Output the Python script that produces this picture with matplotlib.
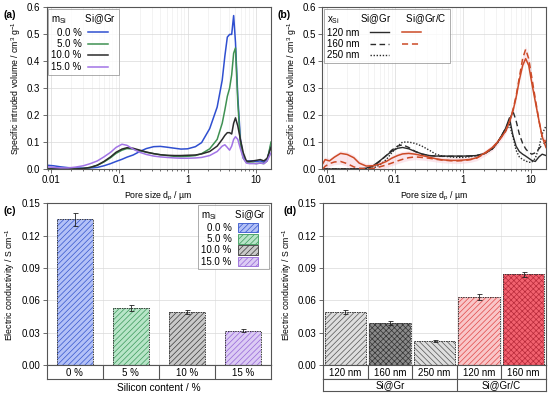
import numpy as np
import matplotlib
matplotlib.use("Agg")
import matplotlib.pyplot as plt
from matplotlib.lines import Line2D
from matplotlib.ticker import FixedLocator, FormatStrFormatter, NullFormatter, LogLocator

plt.rcParams['font.family'] = ['Liberation Sans', 'DejaVu Sans']
plt.rcParams['mathtext.fontset'] = 'custom'
plt.rcParams['mathtext.rm'] = 'Liberation Sans'
plt.rcParams['mathtext.it'] = 'Liberation Sans:italic'
plt.rcParams['font.size'] = 7
plt.rcParams['hatch.linewidth'] = 0.5

# ---- panel (a): pore size distribution vs silicon content ----
pore_a = [0.0088, 0.011, 0.014, 0.018, 0.023, 0.03, 0.038, 0.048, 0.06, 0.075,
          0.09, 0.11, 0.13, 0.16, 0.2, 0.25, 0.32, 0.4, 0.5, 0.65,
          0.8, 1.0, 1.3, 1.6, 2.1, 2.7, 3.2, 3.5, 3.8, 4.1,
          4.4, 4.7, 5.0, 5.4, 5.9, 6.5, 7.2, 8.0, 9.0, 10.0,
          11.5, 13.0, 14.5, 16.5]
si_0 = [0.014, 0.012, 0.008, 0.005, 0.004, 0.003, 0.004, 0.006, 0.012, 0.02,
        0.028, 0.036, 0.044, 0.052, 0.065, 0.076, 0.083, 0.084, 0.081, 0.077,
        0.074, 0.075, 0.083, 0.098, 0.15, 0.23, 0.33, 0.42, 0.49, 0.50,
        0.50, 0.57, 0.47, 0.27, 0.11, 0.045, 0.028, 0.03, 0.03, 0.028,
        0.03, 0.025, 0.035, 0.09]
si_5 = [0.002, 0.001, 0.0, 0.0, 0.0, 0.002, 0.006, 0.014, 0.026, 0.042,
        0.058, 0.07, 0.076, 0.074, 0.068, 0.062, 0.057, 0.053, 0.05, 0.047,
        0.046, 0.047, 0.05, 0.057, 0.075, 0.11, 0.17, 0.22, 0.27, 0.30,
        0.35, 0.43, 0.45, 0.25, 0.09, 0.04, 0.025, 0.022, 0.022, 0.02,
        0.022, 0.02, 0.03, 0.1]
si_10 = [0.0, 0.0, 0.0, 0.0, 0.0, 0.002, 0.006, 0.014, 0.028, 0.045,
         0.062, 0.074, 0.079, 0.077, 0.07, 0.063, 0.057, 0.053, 0.051, 0.05,
         0.05, 0.051, 0.052, 0.056, 0.065, 0.085, 0.11, 0.125, 0.135, 0.135,
         0.13, 0.17, 0.19, 0.16, 0.11, 0.06, 0.03, 0.028, 0.03, 0.032,
         0.035, 0.03, 0.04, 0.08]
si_15 = [0.008, 0.006, 0.004, 0.004, 0.007, 0.012, 0.02, 0.03, 0.045, 0.062,
         0.08, 0.092, 0.088, 0.074, 0.062, 0.054, 0.048, 0.045, 0.043, 0.041,
         0.04, 0.04, 0.041, 0.043, 0.05, 0.065, 0.085, 0.09, 0.08, 0.07,
         0.085, 0.11, 0.12, 0.11, 0.075, 0.04, 0.022, 0.02, 0.02, 0.02,
         0.022, 0.02, 0.03, 0.06]
labels_a = ["0.0 %", "5.0 %", "10.0 %", "15.0 %"]
colors_a = ["#2f4fd0", "#3f9152", "#2b2b2b", "#a274e6"]

# ---- panel (b): pore size distribution vs particle size ----
pore_b = [0.0088, 0.0095, 0.011, 0.013, 0.016, 0.02, 0.025, 0.03, 0.038, 0.048,
          0.06, 0.075, 0.09, 0.11, 0.13, 0.16, 0.2, 0.25, 0.32, 0.4,
          0.5, 0.65, 0.8, 1.0, 1.3, 1.6, 2.1, 2.7, 3.2, 3.7,
          4.2, 4.8, 5.4, 6.0, 6.7, 7.5, 8.3, 9.2, 10.2, 11.5,
          13.0, 14.5, 16.5]
gr_120 = [0.0, 0.0, 0.0, 0.0, 0.0, 0.0, 0.0, 0.001, 0.003, 0.012,
          0.03, 0.05, 0.066, 0.077, 0.08, 0.075, 0.065, 0.056, 0.05, 0.048,
          0.048, 0.048, 0.048, 0.048, 0.049, 0.05, 0.058, 0.075, 0.098, 0.125,
          0.15, 0.19, 0.125, 0.085, 0.065, 0.055, 0.048, 0.04, 0.032, 0.028,
          0.045, 0.055, 0.05]
gr_160 = [0.0, 0.0, 0.0, 0.0, 0.0, 0.0, 0.0, 0.0, 0.002, 0.01,
          0.028, 0.05, 0.07, 0.085, 0.09, 0.08, 0.065, 0.055, 0.05, 0.048,
          0.047, 0.047, 0.047, 0.047, 0.048, 0.05, 0.058, 0.075, 0.098, 0.125,
          0.15, 0.18, 0.215, 0.18, 0.13, 0.095, 0.075, 0.062, 0.055, 0.06,
          0.075, 0.09, 0.1]
gr_250 = [0.0, 0.0, 0.0, 0.0, 0.0, 0.0, 0.0, 0.0, 0.0, 0.003,
          0.015, 0.035, 0.06, 0.085, 0.1, 0.1, 0.095, 0.085, 0.07, 0.055,
          0.048, 0.045, 0.043, 0.043, 0.046, 0.05, 0.058, 0.075, 0.097, 0.125,
          0.14, 0.165, 0.12, 0.07, 0.045, 0.035, 0.03, 0.025, 0.025, 0.04,
          0.08, 0.13, 0.16]
grc_120 = [0.02, 0.035, 0.03, 0.044, 0.058, 0.054, 0.042, 0.022, 0.011, 0.012,
           0.018, 0.028, 0.04, 0.05, 0.056, 0.058, 0.055, 0.05, 0.044, 0.038,
           0.034, 0.032, 0.032, 0.033, 0.036, 0.042, 0.06, 0.08, 0.1, 0.12,
           0.14, 0.175, 0.215, 0.265, 0.33, 0.385, 0.41, 0.385, 0.32, 0.25,
           0.18, 0.12, 0.08]
grc_160 = [0.0, 0.01, 0.02, 0.026, 0.028, 0.02, 0.008, 0.003, 0.0, 0.002,
           0.008, 0.015, 0.022, 0.03, 0.036, 0.042, 0.045, 0.043, 0.04, 0.036,
           0.033, 0.031, 0.03, 0.031, 0.035, 0.041, 0.058, 0.078, 0.098, 0.12,
           0.14, 0.175, 0.22, 0.27, 0.34, 0.41, 0.445, 0.41, 0.34, 0.26,
           0.18, 0.12, 0.1]
sizes_b = ["120 nm", "160 nm", "250 nm"]

# ---- panel (c): conductivity vs silicon content ----
content_c = ["0 %", "5 %", "10 %", "15 %"]
cond_c = [0.135, 0.053, 0.049, 0.032]
err_c = [0.006, 0.003, 0.002, 0.001]
face_c = ["#b3c1f7", "#b8e5c8", "#c9c9c9", "#dccbf4"]
hatchc_c = ["#3556cc", "#3c9a5c", "#3a3a3a", "#9566d8"]

# ---- panel (d): conductivity vs particle size ----
size_d = ["120 nm", "160 nm", "250 nm", "120 nm", "160 nm"]
group_d = ["Si@Gr", "Si@Gr", "Si@Gr", "Si@Gr/C", "Si@Gr/C"]
cond_d = [0.049, 0.039, 0.022, 0.063, 0.084]
err_d = [0.002, 0.0015, 0.001, 0.003, 0.002]
face_d = ["#dedede", "#8a8a8a", "#dedede", "#f9c6c8", "#f2626f"]
hatchc_d = ["#555555", "#333333", "#555555", "#e04848", "#b82a3a"]
hatch_d = ["//////", "xxxxxx", "\\\\\\\\\\\\", "//////", "xxxxxx"]

fig = plt.figure(figsize=(5.5, 3.96), dpi=100)
W, H = 550.0, 396.0
LAB = 6.3


def ax_at(x0, y0, x1, y1):
    return fig.add_axes([x0 / W, 1 - y1 / H, (x1 - x0) / W, (y1 - y0) / H])


def style_axes(ax):
    for s in ax.spines.values():
        s.set_color("#555555")
        s.set_linewidth(0.8)
    ax.tick_params(which="both", direction="out", color="#555555", width=0.6, labelsize=7, pad=1.5)
    ax.tick_params(which="major", length=3)
    ax.tick_params(which="minor", length=1.5)


def style_psd(ax):
    style_axes(ax)
    ax.set_xscale("log")
    ax.set_xlim(0.0087, 16.5)
    ax.set_ylim(0, 0.6)
    ax.set_yticks(np.arange(0, 0.61, 0.1))
    ax.yaxis.set_major_formatter(FormatStrFormatter("%.1f"))
    ax.xaxis.set_major_locator(FixedLocator([0.01, 0.1, 1, 10]))
    ax.set_xticklabels(["0.01", "0.1", "1", "10"])
    ax.xaxis.set_minor_locator(LogLocator(base=10, subs=np.arange(2, 10)))
    ax.xaxis.set_minor_formatter(NullFormatter())
    ax.grid(which="major", color="#d9d9d9", lw=0.5)
    ax.grid(which="minor", axis="x", color="#ebebeb", lw=0.4)
    ax.set_axisbelow(True)
    ax.set_xlabel("Pore size d$_\\mathrm{p}$ / µm", labelpad=3, fontsize=LAB)
    ax.set_ylabel("Specific intruded volume / cm$^3$ g$^{-1}$", labelpad=3, fontsize=LAB)


def legend_box(ax, handles, labels, title, **kw):
    opts = dict(markerfirst=False, fontsize=7, fancybox=False, edgecolor="#888888",
                handlelength=2.0, borderaxespad=0.2, labelspacing=0.15, borderpad=0.3,
                handletextpad=0.7, title=title, title_fontsize=7, alignment="left")
    opts.update(kw)
    leg = ax.legend(handles, labels, **opts)
    leg.get_frame().set_linewidth(0.6)
    return leg


# (a)
axa = ax_at(46.5, 7.5, 271, 169)
style_psd(axa)
lines_a = []
for ys, c in zip([si_0, si_5, si_10, si_15], colors_a):
    lines_a += axa.plot(pore_a, ys, color=c, lw=1.1)
legend_box(axa, lines_a, labels_a, "m$_\\mathrm{Si}$       Si@Gr", loc="upper left")

# (b)
axb = ax_at(322.5, 7.5, 546, 169)
style_psd(axb)
red = "#cc4a26"
dash = (0, (4, 2.5))
dot = (0, (1, 1.2))
axb.fill_between(pore_b, np.minimum(grc_120, grc_160) - 0.01, np.maximum(grc_120, grc_160) + 0.01,
                 color="#f7c9d6", alpha=0.45, lw=0)
axb.plot(pore_b, gr_120, color="#2b2b2b", lw=1.0, ls="-")
axb.plot(pore_b, gr_160, color="#2b2b2b", lw=1.0, ls=dash)
axb.plot(pore_b, gr_250, color="#2b2b2b", lw=1.0, ls=dot)
axb.plot(pore_b, grc_120, color=red, lw=1.1, ls="-")
axb.plot(pore_b, grc_160, color=red, lw=1.1, ls=dash)
h_gr = [Line2D([], [], color="#2b2b2b", lw=1.0, ls=s) for s in ["-", dash, dot]]
h_grc = [Line2D([], [], color=red, lw=1.1, ls=s) for s in ["-", dash]] + [Line2D([], [], lw=0)]
legend_box(axb, h_gr + h_grc, sizes_b + ["", "", ""],
           "x$_\\mathrm{Si}$        Si@Gr      Si@Gr/C",
           ncol=2, loc="upper left", columnspacing=0.3, handletextpad=1.0)


def style_bar(ax, n):
    style_axes(ax)
    ax.set_xlim(-0.5, n - 0.5)
    ax.set_ylim(0, 0.15)
    ax.set_yticks(np.arange(0, 0.151, 0.03))
    ax.yaxis.set_major_formatter(FormatStrFormatter("%.2f"))
    ax.set_xticks([])
    ax.grid(axis="y", color="#d9d9d9", lw=0.5)
    for b in np.arange(n - 1) + 0.5:
        ax.axvline(b, color="#e3e3e3", lw=0.5, zorder=0)
    ax.set_axisbelow(True)
    ax.set_ylabel("Electric conductivity / S cm$^{-1}$", labelpad=3, fontsize=LAB)


def draw_bars(ax, vals, errs, faces, hcols, hatches, width):
    x = np.arange(len(vals))
    for i in range(len(vals)):
        ax.bar(x[i], vals[i], width=width, color=faces[i], edgecolor=hcols[i], hatch=hatches[i], lw=0)
    ax.bar(x, vals, width=width, fill=False, edgecolor="#3a3a3a", lw=0.7, ls=(0, (1.5, 1)))
    ax.errorbar(x, vals, yerr=errs, fmt="none", ecolor="#222222", elinewidth=0.6, capsize=1.8, capthick=0.6)


def label_row(x0, y0, x1, y1, n, labels, centers, bounds):
    r = ax_at(x0, y0, x1, y1)
    r.set_xlim(-0.5, n - 0.5)
    r.set_ylim(0, 1)
    r.set_xticks([])
    r.set_yticks([])
    for s in r.spines.values():
        s.set_color("#555555")
        s.set_linewidth(0.8)
    for b in bounds:
        r.axvline(b, color="#555555", lw=0.8)
    for cx, t in zip(centers, labels):
        r.text(cx, 0.45, t, ha="center", va="center", fontsize=7)
    return r


# (c)
axc = ax_at(46.5, 203.3, 271, 365)
style_bar(axc, len(cond_c))
draw_bars(axc, cond_c, err_c, face_c, hatchc_c, ["//////"] * 4, 0.64)
pos_c = np.arange(len(content_c))
label_row(46.5, 365, 271, 379, len(content_c), content_c, pos_c, pos_c[:-1] + 0.5)
fig.text((46.5 + 271) / 2 / W, 1 - 388 / H, "Silicon content / %", ha="center", va="center", fontsize=7.3)
leg_h = [plt.Rectangle((0, 0), 1, 1, facecolor=f, edgecolor=h, hatch="//////", lw=0.6)
         for f, h in zip(face_c, hatchc_c)]
legend_box(axc, leg_h, labels_a, "m$_\\mathrm{Si}$       Si@Gr", loc="upper right",
           handleheight=1.1, labelspacing=0.12)

# (d)
axd = ax_at(323, 203.3, 546, 365)
style_bar(axd, len(cond_d))
draw_bars(axd, cond_d, err_d, face_d, hatchc_d, hatch_d, 0.93)
pos_d = np.arange(len(size_d))
label_row(323, 365, 546, 379, len(size_d), size_d, pos_d, pos_d[:-1] + 0.5)
groups = list(dict.fromkeys(group_d))
g_centers = [np.mean([i for i, g in enumerate(group_d) if g == gg]) for gg in groups]
g_bounds = [max(i for i, g in enumerate(group_d) if g == gg) + 0.5 for gg in groups[:-1]]
label_row(323, 379, 546, 391, len(size_d), groups, g_centers, g_bounds)

# panel letters
for t, x, y in [("(a)", 3, 15), ("(b)", 278, 15), ("(c)", 3, 211), ("(d)", 283, 211)]:
    fig.text(x / W, 1 - y / H, t, fontsize=7.5, fontweight="bold", va="center")

fig.savefig("out.png", dpi=100)
